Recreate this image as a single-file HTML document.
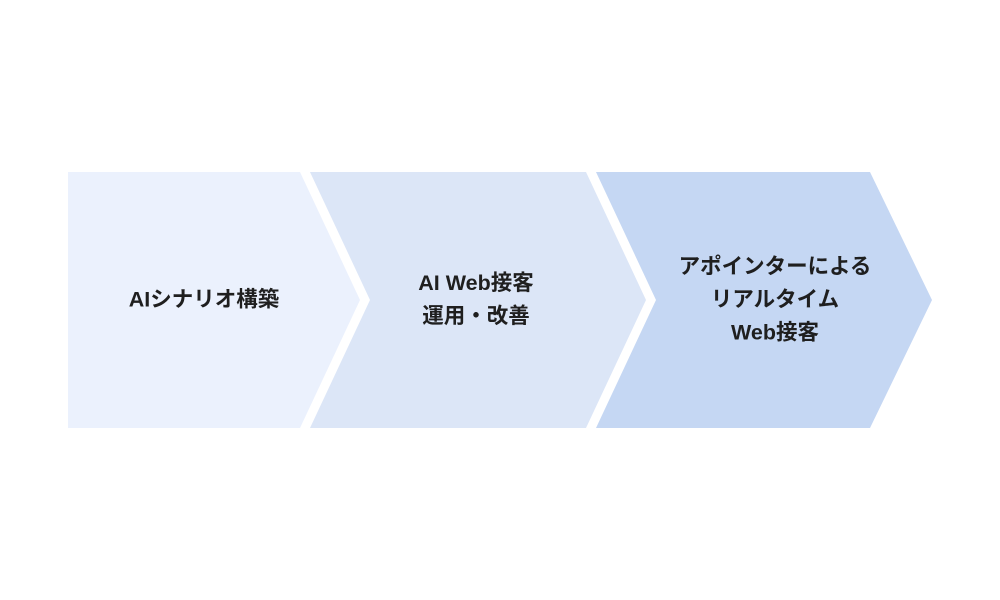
<!DOCTYPE html>
<html><head><meta charset="utf-8"><style>
body{margin:0;width:1000px;height:600px;background:#fff;overflow:hidden;position:relative;font-family:"Liberation Sans","Noto Sans CJK JP",sans-serif;}
.t{position:absolute;transform:translate(-50%,-50%);text-align:center;font-weight:bold;font-size:21.5px;line-height:33px;color:#1f1f1f;white-space:nowrap;}
</style></head><body>
<svg width="1000" height="600" style="position:absolute;left:0;top:0">
<polygon points="68,172 300,172 360,300 300,428 68,428" fill="#ebf1fd"/>
<polygon points="310,172 586,172 646,300 586,428 310,428 370,300" fill="#dce6f7"/>
<polygon points="596,172 870,172 932,300 870,428 596,428 656,300" fill="#c5d7f3"/>
</svg>
<div class="t" style="left:204px;top:300px">AIシナリオ構築</div>
<div class="t" style="left:476px;top:300px">AI Web接客<br>運用・改善</div>
<div class="t" style="left:775px;top:300px">アポインターによる<br>リアルタイム<br>Web接客</div>
</body></html>
